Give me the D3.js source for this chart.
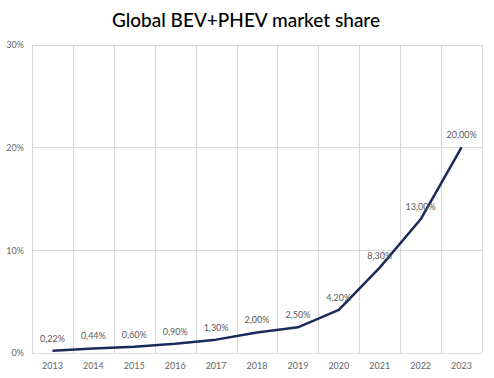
<!DOCTYPE html>
<html><head><meta charset="utf-8">
<script src="https://cdn.jsdelivr.net/npm/d3@7"></script>
<style>body{margin:0;background:#fff}svg{display:block}</style>
</head><body>
<script>
const years = ["2013","2014","2015","2016","2017","2018","2019","2020","2021","2022","2023"];
const shares = [0.22,0.44,0.60,0.90,1.30,2.00,2.50,4.20,8.30,13.00,20.00];
const yTicks = [0,10,20,30];

const W=494,H=378;
const svg=d3.select("body").append("svg").attr("width",W).attr("height",H);
const m={l:32,r:12,t:44.5,b:25};
const x=d3.scaleBand().domain(years).range([m.l,W-m.r]).padding(0);
const y=d3.scaleLinear().domain([0,30]).range([H-m.b,m.t]);
const font="Lato, 'Open Sans', sans-serif";

svg.append("text").attr("x",246).attr("y",27).attr("text-anchor","middle")
  .attr("font-family",font).attr("font-size",19).attr("font-weight",500).attr("fill","#000")
  .text("Global BEV+PHEV market share");

// grid
const g=svg.append("g");
g.selectAll(".h").data(yTicks).join("line")
  .attr("x1",m.l).attr("x2",W-m.r).attr("y1",d=>Math.round(y(d))+0.5).attr("y2",d=>Math.round(y(d))+0.5)
  .attr("stroke","#d9d9d9").attr("stroke-width",1);
const vx=years.map(d=>x(d)).concat([x(years[years.length-1])+x.bandwidth()]);
g.selectAll(".v").data(vx).join("line")
  .attr("x1",d=>Math.round(d)+0.5).attr("x2",d=>Math.round(d)+0.5).attr("y1",y(30)).attr("y2",y(0))
  .attr("stroke","#d9d9d9").attr("stroke-width",1);

// axes
const yAxis=d3.axisLeft(y).tickValues(yTicks).tickSize(0).tickPadding(8).tickFormat(d=>d+"%");
svg.append("g").attr("transform",`translate(${m.l},0)`).call(yAxis)
  .call(s=>s.select(".domain").remove())
  .selectAll("text").attr("font-family",font).attr("font-size",9).attr("fill","#666");
const xAxis=d3.axisBottom(x).tickSize(0).tickPadding(10);
svg.append("g").attr("transform",`translate(0,${y(0)})`).call(xAxis)
  .call(s=>s.select(".domain").remove())
  .selectAll("text").attr("font-family",font).attr("font-size",9).attr("fill","#666");

const cx=d=>x(d)+x.bandwidth()/2;
const line=d3.line().x((d,i)=>cx(years[i])).y(d=>y(d));
svg.append("path").datum(shares).attr("d",line).attr("fill","none")
  .attr("stroke","#1b2a5c").attr("stroke-width",2.5).attr("stroke-linejoin","round");

const fmt=v=>v.toFixed(2).replace(".",",")+"%";
svg.selectAll(".lbl").data(shares).join("text")
  .attr("x",(d,i)=>cx(years[i])).attr("y",d=>y(d)-9)
  .attr("text-anchor","middle").attr("font-family",font).attr("font-size",9).attr("fill","#595959")
  .text(fmt);
</script>
</body></html>
